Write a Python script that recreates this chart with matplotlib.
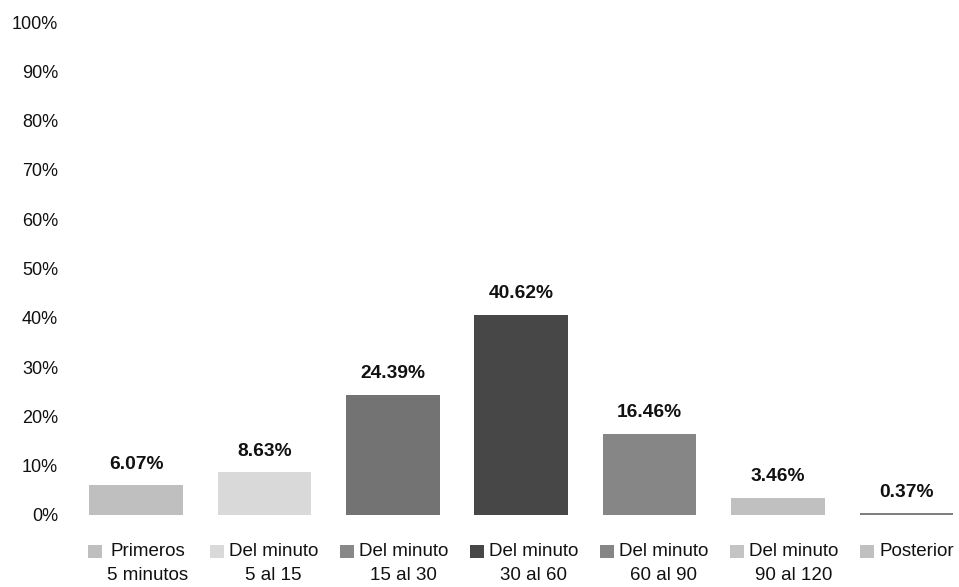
import matplotlib.pyplot as plt
from matplotlib.patches import Patch, Rectangle
from matplotlib.legend_handler import HandlerPatch
from matplotlib.ticker import FuncFormatter

plt.rcParams['font.family'] = ['Liberation Sans', 'DejaVu Sans']

categories = ['Primeros\n5 minutos', 'Del minuto\n5 al 15', 'Del minuto\n15 al 30',
              'Del minuto\n30 al 60', 'Del minuto\n60 al 90', 'Del minuto\n90 al 120',
              'Posterior\n']
values = [6.07, 8.63, 24.39, 40.62, 16.46, 3.46, 0.37]
bar_colors = ['#bfbfbf', '#d9d9d9', '#737373', '#474747', '#868686', '#c0c0c0', '#808080']
legend_colors = ['#bfbfbf', '#d9d9d9', '#888888', '#474747', '#868686', '#c4c4c4', '#c0c0c0']

fig = plt.figure(figsize=(9.59, 5.87), dpi=100)
ax = fig.add_axes([0.075, 0.1227, 0.925, 0.8398])

x = list(range(len(values)))
bars = ax.bar(x, values, width=0.73, color=bar_colors)
ax.bar_label(bars, labels=[f'{v:.2f}%' for v in values], padding=9,
             fontsize=13.8, fontweight='bold', color='#111111')

ax.set_xlim(-0.5, 6.41)
ax.set_ylim(0, 100)
ax.set_yticks(range(0, 101, 10))
ax.yaxis.set_major_formatter(FuncFormatter(lambda v, p: f'{int(v)}%'))
ax.tick_params(axis='y', length=0, pad=10, labelsize=13, labelcolor='#111111')
ax.set_xticks([])
for s in ax.spines.values():
    s.set_visible(False)

legend_fs = 13.5
line_sp = 1.56


# square swatch lined up with the first line of the label
def top_square(legend, orig_handle, xdescent, ydescent, width, height, fontsize):
    shift = 0.5 * line_sp * fontsize * 0.82
    return Rectangle((-xdescent, -ydescent + shift), width, height)


handles = [Patch(facecolor=c, edgecolor='none') for c in legend_colors]
leg = fig.legend(handles, categories, loc='upper left', ncol=7,
                 bbox_to_anchor=(88 / 959, 1 - 543 / 587), frameon=False,
                 fontsize=legend_fs, handlelength=0.75, handleheight=0.75,
                 handletextpad=0.27, columnspacing=1.15, borderpad=0,
                 borderaxespad=0,
                 handler_map={Patch: HandlerPatch(patch_func=top_square)})
for t in leg.get_texts():
    t.set_multialignment('center')
    t.set_linespacing(line_sp)
    t.set_color('#111111')

fig.savefig('out.png', dpi=100)
